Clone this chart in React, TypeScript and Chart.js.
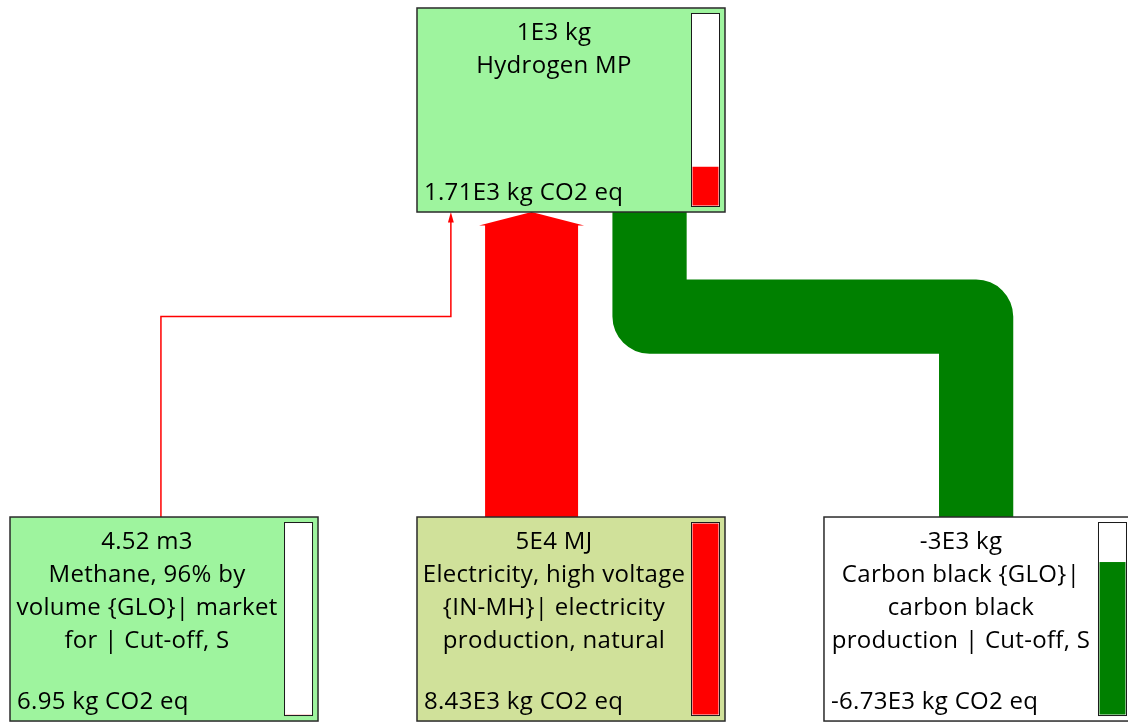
import React, { useEffect, useRef } from "react";
import { Chart, registerables } from "chart.js";

Chart.register(...registerables);

// ---- data ----
const nodeAmounts = ["1E3 kg", "4.52 m3", "5E4 MJ", "-3E3 kg"];
const nodeNames = [
  ["Hydrogen MP"],
  ["Methane, 96% by", "volume {GLO}| market", "for | Cut-off, S"],
  ["Electricity, high voltage", "{IN-MH}| electricity", "production, natural"],
  ["Carbon black {GLO}|", "carbon black", "production | Cut-off, S"],
];
const nodeScores = [1710, 6.95, 8430, -6730]; // kg CO2 eq
const nodeScoreLabels = ["1.71E3 kg CO2 eq", "6.95 kg CO2 eq", "8.43E3 kg CO2 eq", "-6.73E3 kg CO2 eq"];
const nodeColumns = [1, 0, 1, 2];
const nodeRows = [0, 1, 1, 1];
const nodeFills = ["#9ef49e", "#9ef49e", "#d0e19a", "#ffffff"];

const linkSources = [1, 2, 3];
const linkTargets = [0, 0, 0];
const linkValues = [6.95, 8430, -6730];
const linkSourceAnchors = [0.49, 0.372, 0.494];
const linkTargetAnchors = [0.11, 0.372, 0.755];

// ---- layout (in column / row units) ----
const X_MIN = -0.0246;
const X_MAX = 2.747;
const Y_MIN = -0.0157;
const Y_MAX = 1.4086;
const BOX_W = 0.7568;
const BOX_H = 0.4008;
const LINK_MAX_W = 0.2285;
const LINK_BEND = 0.343;

const RED = "#ff0000";
const GREEN = "#008000";
const FONT = '24px "Open Sans"';

const flowPlugin = {
  id: "flowPlugin",
  afterDatasetsDraw(chart: any) {
    const ctx = chart.ctx as CanvasRenderingContext2D;
    const xs = chart.scales.x;
    const ys = chart.scales.y;
    const px = (v: number) => xs.getPixelForValue(v);
    const py = (v: number) => ys.getPixelForValue(v);
    const maxAbs = Math.max(...nodeScores.map((s) => Math.abs(s)));

    // links
    linkValues.forEach((v, i) => {
      const s = linkSources[i];
      const t = linkTargets[i];
      const sx = px(nodeColumns[s] + BOX_W * linkSourceAnchors[i]);
      const sy = py(nodeRows[s]);
      const tx = px(nodeColumns[t] + BOX_W * linkTargetAnchors[i]);
      const ty = py(nodeRows[t] + BOX_H);
      const w = Math.max(1.5, px(LINK_MAX_W * Math.abs(v) / maxAbs) - px(0));
      const color = v >= 0 ? RED : GREEN;
      const midY = ty + (sy - ty) * LINK_BEND;
      const straight = Math.abs(sx - tx) < 1;
      const big = w > 4;
      const headH = v > 0 ? (big ? 13 : 10) : 0;
      ctx.save();
      ctx.strokeStyle = color;
      ctx.fillStyle = color;
      ctx.lineWidth = w;
      ctx.lineJoin = big ? "round" : "miter";
      ctx.lineCap = "butt";
      ctx.beginPath();
      ctx.moveTo(sx, sy);
      if (!straight) {
        ctx.lineTo(sx, midY);
        ctx.lineTo(tx, midY);
      }
      ctx.lineTo(tx, ty + headH);
      ctx.stroke();
      if (v > 0) {
        const half = w / 2 + (big ? 6 : 2.2);
        ctx.beginPath();
        ctx.moveTo(tx - half, ty + headH + 0.5);
        ctx.lineTo(tx, ty);
        ctx.lineTo(tx + half, ty + headH + 0.5);
        ctx.closePath();
        ctx.fill();
      }
      ctx.restore();
    });

    // nodes
    nodeAmounts.forEach((amount, i) => {
      const left = px(nodeColumns[i]);
      const right = px(nodeColumns[i] + BOX_W);
      const top = py(nodeRows[i]);
      const bottom = py(nodeRows[i] + BOX_H);
      ctx.save();
      ctx.fillStyle = nodeFills[i];
      ctx.fillRect(left, top, right - left, bottom - top);
      ctx.strokeStyle = "#2a2a2a";
      ctx.lineWidth = 1.5;
      ctx.strokeRect(left, top, right - left, bottom - top);

      // thermometer
      const tl = right - 34;
      const tr = right - 5;
      const tt = top + 5;
      const tb = bottom - 5;
      ctx.fillStyle = "#ffffff";
      ctx.fillRect(tl, tt, tr - tl, tb - tt);
      ctx.strokeStyle = "#1a1a1a";
      ctx.lineWidth = 1;
      ctx.strokeRect(tl + 0.5, tt + 0.5, tr - tl - 1, tb - tt - 1);
      const frac = Math.abs(nodeScores[i]) / maxAbs;
      const innerH = tb - tt - 3;
      const fh = innerH * frac;
      ctx.fillStyle = nodeScores[i] >= 0 ? RED : GREEN;
      ctx.fillRect(tl + 1.5, tb - 1.5 - fh, tr - tl - 3, fh);

      // texts
      ctx.fillStyle = "#000000";
      ctx.font = FONT;
      (ctx as any).letterSpacing = "0.3px";
      ctx.textBaseline = "middle";
      ctx.textAlign = "center";
      const cx = (left + tl) / 2;
      [amount, ...nodeNames[i]].forEach((line, k) => {
        ctx.fillText(line, cx, top + 25 + 33 * k);
      });
      ctx.textAlign = "left";
      ctx.fillText(nodeScoreLabels[i], left + 7, bottom - 19);
      ctx.restore();
    });
  },
};

export default function App() {
  const canvasRef = useRef<HTMLCanvasElement | null>(null);

  useEffect(() => {
    const canvas = canvasRef.current;
    if (!canvas) return;
    const chart = new Chart(canvas, {
      type: "scatter",
      data: {
        datasets: [
          {
            label: "nodes",
            data: nodeColumns.map((c, i) => ({ x: c, y: nodeRows[i] })),
            pointRadius: 0,
            showLine: false,
          },
        ],
      },
      options: {
        responsive: false,
        animation: false,
        events: [],
        layout: { padding: 0 },
        scales: {
          x: { type: "linear", display: false, min: X_MIN, max: X_MAX },
          y: { type: "linear", display: false, min: Y_MIN, max: Y_MAX, reverse: true },
        },
        plugins: {
          legend: { display: false },
          tooltip: { enabled: false },
        },
      },
      plugins: [flowPlugin],
    });
    return () => chart.destroy();
  }, []);

  return (
    <div style={{ position: "fixed", left: 0, top: 0, width: 1128, height: 725, background: "#ffffff" }}>
      <canvas ref={canvasRef} width={1128} height={725} style={{ display: "block" }} />
    </div>
  );
}
